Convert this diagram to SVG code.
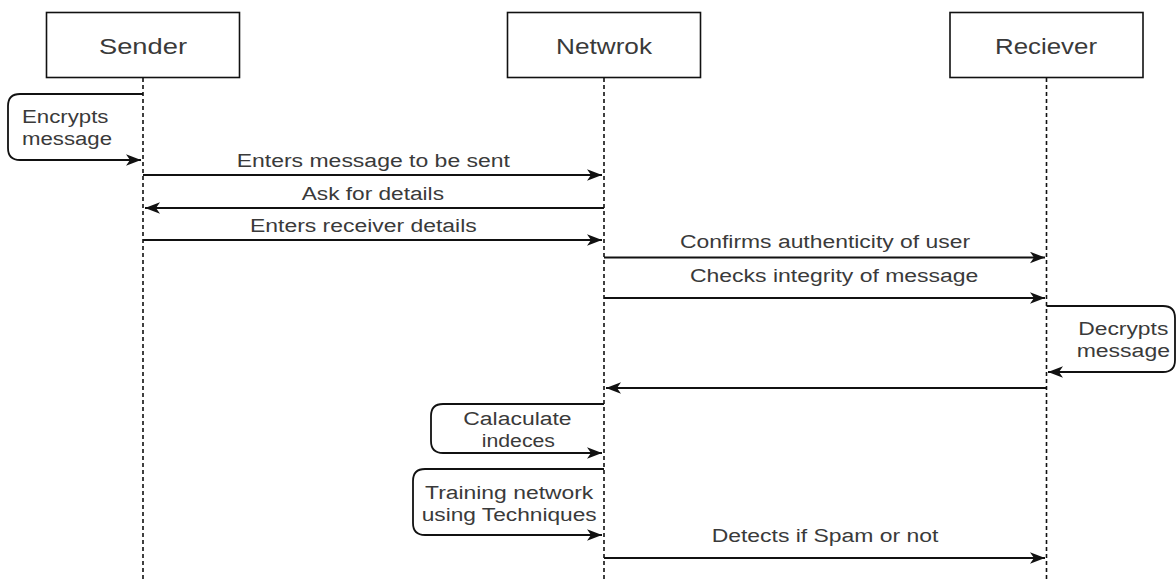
<svg xmlns="http://www.w3.org/2000/svg" width="1176" height="582" viewBox="0 0 1176 582">
<style>
.box{fill:#fff;stroke:#111;stroke-width:1.6}
.life{fill:none;stroke:#111;stroke-width:1.6;stroke-dasharray:4 3}
.msg{fill:none;stroke:#111;stroke-width:1.8}
.t{font-family:"Liberation Sans",Arial,sans-serif;fill:#3a3a3a;font-size:18px}
.h{font-family:"Liberation Sans",Arial,sans-serif;fill:#3a3a3a;font-size:22px}
</style>
<defs>
<marker id="arr" markerUnits="userSpaceOnUse" markerWidth="16" markerHeight="12" refX="15" refY="5.75" orient="auto">
<path d="M0,0 L15,5.75 L0,11.5 L4,5.75 Z" fill="#111"/>
</marker>
</defs>
<rect width="1176" height="582" fill="#fff"/>
<g id="sender">
<rect class="box" x="46.5" y="12.5" width="193" height="65"/>
<line class="life" x1="143" y1="78" x2="143" y2="582"/>
<text class="h" x="99" y="54" textLength="88" lengthAdjust="spacingAndGlyphs">Sender</text>
</g>
<g id="network">
<rect class="box" x="507.5" y="12.5" width="193" height="65"/>
<line class="life" x1="604" y1="78" x2="604" y2="582"/>
<text class="h" x="556" y="54" textLength="96" lengthAdjust="spacingAndGlyphs">Netwrok</text>
</g>
<g id="receiver">
<rect class="box" x="950" y="12.5" width="193" height="65"/>
<line class="life" x1="1046.5" y1="78" x2="1046.5" y2="582"/>
<text class="h" x="995" y="54" textLength="102" lengthAdjust="spacingAndGlyphs">Reciever</text>
</g>
<g id="connectors">
<path class="msg" d="M143,94 H20 Q8,94 8,106 V148 Q8,160 20,160 H141" marker-end="url(#arr)"/>
<path class="msg" d="M143,175 H602" marker-end="url(#arr)"/>
<path class="msg" d="M604,208 H145" marker-end="url(#arr)"/>
<path class="msg" d="M143,240 H602" marker-end="url(#arr)"/>
<path class="msg" d="M604,257.5 H1045" marker-end="url(#arr)"/>
<path class="msg" d="M604,298 H1045" marker-end="url(#arr)"/>
<path class="msg" d="M1046.5,306 H1163 Q1175,306 1175,318 V360 Q1175,372 1163,372 H1048" marker-end="url(#arr)"/>
<path class="msg" d="M1046.5,388 H606" marker-end="url(#arr)"/>
<path class="msg" d="M604,404 H443 Q431,404 431,416 V441 Q431,453 443,453 H602" marker-end="url(#arr)"/>
<path class="msg" d="M604,469 H425 Q413,469 413,481 V523 Q413,535 425,535 H602" marker-end="url(#arr)"/>
<path class="msg" d="M604,558 H1045" marker-end="url(#arr)"/>
</g>
<g id="labels">
<text class="t" x="22" y="123" textLength="86.5" lengthAdjust="spacingAndGlyphs">Encrypts</text>
<text class="t" x="22" y="145" textLength="90" lengthAdjust="spacingAndGlyphs">message</text>
<text class="t" x="236.7" y="166.5" textLength="273.3" lengthAdjust="spacingAndGlyphs">Enters message to be sent</text>
<text class="t" x="301.7" y="199.5" textLength="142.3" lengthAdjust="spacingAndGlyphs">Ask for details</text>
<text class="t" x="250" y="231.5" textLength="226.7" lengthAdjust="spacingAndGlyphs">Enters receiver details</text>
<text class="t" x="680" y="248" textLength="290" lengthAdjust="spacingAndGlyphs">Confirms authenticity of user</text>
<text class="t" x="690" y="281.5" textLength="288.3" lengthAdjust="spacingAndGlyphs">Checks integrity of message</text>
<text class="t" x="1078.3" y="335" textLength="90" lengthAdjust="spacingAndGlyphs">Decrypts</text>
<text class="t" x="1076.7" y="357" textLength="93.3" lengthAdjust="spacingAndGlyphs">message</text>
<text class="t" x="463.3" y="425" textLength="108.3" lengthAdjust="spacingAndGlyphs">Calaculate</text>
<text class="t" x="481.7" y="446.5" textLength="73.3" lengthAdjust="spacingAndGlyphs">indeces</text>
<text class="t" x="425" y="499" textLength="168.3" lengthAdjust="spacingAndGlyphs">Training network</text>
<text class="t" x="421.7" y="520.5" textLength="175" lengthAdjust="spacingAndGlyphs">using Techniques</text>
<text class="t" x="711.7" y="542" textLength="226.7" lengthAdjust="spacingAndGlyphs">Detects if Spam or not</text>
</g>
</svg>
